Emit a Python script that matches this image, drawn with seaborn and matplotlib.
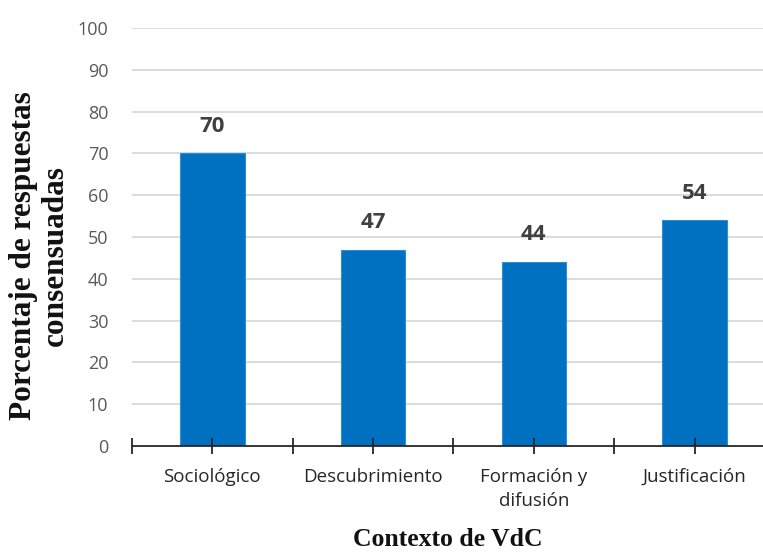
import matplotlib
matplotlib.use("Agg")
import matplotlib.pyplot as plt
import seaborn as sns
import pandas as pd
import numpy as np

categories = ["Sociológico", "Descubrimiento", "Formación y\ndifusión", "Justificación"]
values = [70, 47, 44, 54]
y_ticks = [0, 10, 20, 30, 40, 50, 60, 70, 80, 90, 100]

df = pd.DataFrame({"cat": categories, "val": values})

sns.set_theme(style="white")
plt.rcParams['font.family'] = ['Open Sans', 'DejaVu Sans']

fig = plt.figure(figsize=(7.63, 5.53), dpi=100)
ax = fig.add_axes([132/763, 107/553, (763-132)/763, (446-28)/553])

sns.barplot(data=df, x="cat", y="val", color="#0070C0", width=0.4,
            edgecolor="#2E8FD6", linewidth=0.8, ax=ax, zorder=2, saturation=1)

ax.set_ylim(0, 100)
ax.set_xlim(-0.5, 3.5 - 12/161)
ax.set_yticks(y_ticks)
ax.set_yticklabels([str(t) for t in y_ticks], color="#595959", fontsize=13)
for t in y_ticks[1:]:
    ax.axhline(t, color="#D9D9D9", linewidth=1.3, zorder=0)
ax.set_axisbelow(False)

for s in ["top", "right", "left"]:
    ax.spines[s].set_visible(False)
ax.spines["bottom"].set_color("#262626")
ax.spines["bottom"].set_linewidth(1.3)
ax.spines["bottom"].set_zorder(5)

ax.set_xticks(range(len(categories)))
ax.set_xticklabels(categories, color="#262626", fontsize=13.5, linespacing=1.45)
ax.set_xticks([i - 0.5 for i in range(len(categories))], minor=True)
ax.tick_params(axis="x", which="both", direction="inout", length=11, width=1.3,
               color="#262626", bottom=True)
ax.tick_params(axis="x", which="major", pad=10)
ax.tick_params(axis="y", length=0, pad=17)

for i, v in enumerate(values):
    ax.text(i, v + 6.5, str(v), ha="center", va="center", fontsize=16,
            fontweight="bold", color="#404040")

ax.set_ylabel("Porcentaje de respuestas\nconsensuadas", family="Liberation Serif",
              fontweight="bold", fontsize=22.5, color="#111111",
              linespacing=1.15)
ax.yaxis.set_label_coords(-0.098, 0.455)
ax.set_xlabel("Contexto de VdC", family="Liberation Serif", fontweight="bold",
              fontsize=18.5, color="#111111", labelpad=13)

fig.savefig("out.png", dpi=100)
